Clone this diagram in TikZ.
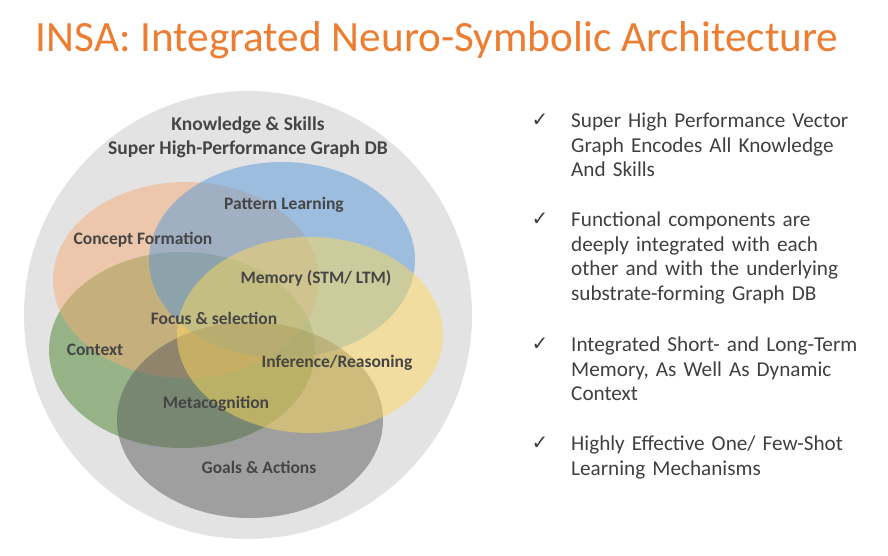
\documentclass[tikz,border=0pt]{standalone}
\usepackage{fontspec}
\setmainfont{Carlito}
\newfontfamily\tickfont{DejaVu Sans}
\usepackage{xcolor}
\usetikzlibrary{shapes.geometric,positioning}
\definecolor{titleorange}{HTML}{ED7D31}
\definecolor{outergray}{HTML}{E3E3E3}
\definecolor{conceptcol}{HTML}{F5AD75}
\definecolor{patterncol}{HTML}{5799D9}
\definecolor{memorycol}{HTML}{FDD95D}
\definecolor{contextcol}{HTML}{49852B}
\definecolor{goalscol}{HTML}{5D5D5D}
\definecolor{labelgray}{HTML}{454545}
\definecolor{textgray}{HTML}{404040}
\tikzset{
  set/.style={ellipse,inner sep=0pt,minimum width=266pt,minimum height=196pt,
    fill opacity=0.5,draw=none},
  setlabel/.style={font=\fontsize{17.5}{20}\selectfont\bfseries,text=labelgray},
  bigsetlabel/.style={font=\fontsize{19.5}{22}\selectfont\bfseries,text=labelgray},
  point/.style={anchor=north west,align=left,inner sep=0pt,text width=310pt,
    font=\fontsize{21.2}{24.5}\selectfont,text=textgray},
  tick/.style={font=\tickfont\fontsize{20}{20}\selectfont,text=textgray,inner sep=0pt}
}
\begin{document}
\begin{tikzpicture}[x=1pt,y=-1pt]
  \useasboundingbox[fill=white] (0,0) rectangle (888,555);

  \node (title) at (437,40) [text=titleorange,font=\fontsize{43.2}{48}\selectfont]
    {INSA: Integrated Neuro-Symbolic Architecture};

  % knowledge base and the five components
  \node (kb) at (248,315) [circle,fill=outergray,minimum size=448pt,inner sep=0pt] {};
  \node (context) at (182,350) [set,fill=contextcol] {};
  \node (concept) at (186,280) [set,fill=conceptcol] {};
  \node (pattern) at (282,260) [set,fill=patterncol] {};
  \node (goals) at (250,420) [set,fill=goalscol] {};
  \node (memory) at (310,335) [set,fill=memorycol] {};

  \node (kbl1) at (248,125) [bigsetlabel] {Knowledge \& Skills};
  \node (kbl2) at (248,149) [bigsetlabel] {Super High-Performance Graph DB};
  \node (patternl) at (284,205) [setlabel] {Pattern Learning};
  \node (conceptl) at (143,240) [setlabel] {Concept Formation};
  \node (memoryl) at (316,278) [setlabel] {Memory (STM/ LTM)};
  \node (focusl) at (214,318) [setlabel] {Focus \& selection};
  \node (contextl) at (95,350) [setlabel] {Context};
  \node (inferl) at (337,363) [setlabel] {Inference/Reasoning};
  \node (metal) at (216,404) [setlabel] {Metacognition};
  \node (goalsl) at (259,467) [setlabel] {Goals \& Actions};

  % key points
  \node (p1) at (571,113) [point] {Super High Performance Vector\\Graph Encodes All Knowledge\\And Skills};
  \node (p2) at (571,212) [point] {Functional components are\\deeply integrated with each\\other and with the underlying\\substrate-forming Graph DB};
  \node (p3) at (571,337) [point] {Integrated Short- and Long-Term\\Memory, As Well As Dynamic\\Context};
  \node (p4) at (571,436) [point] {Highly Effective One/ Few-Shot\\Learning Mechanisms};
  \foreach \p/\y in {1/120,2/219,3/344,4/443}
    \node (t\p) at (540,\y) [tick] {✓};
\end{tikzpicture}
\end{document}
